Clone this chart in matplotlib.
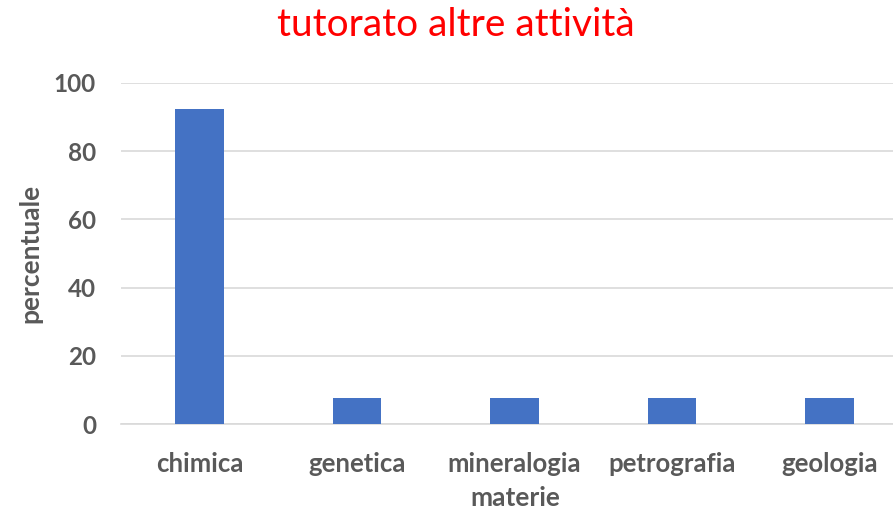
import matplotlib.pyplot as plt

# data
materie = ["chimica", "genetica", "mineralogia", "petrografia", "geologia"]
percentuale = [92.3, 7.7, 7.7, 7.7, 7.7]
y_ticks = [0, 20, 40, 60, 80, 100]

grey = "#595959"
font = "Lato"

fig = plt.figure(figsize=(8.93, 5.15), dpi=100)
ax = fig.add_axes([121 / 893, 1 - 424 / 515, 787 / 893, 341 / 515])

ax.bar(range(len(materie)), percentuale, width=0.31, color="#4472C4", zorder=3)

ax.set_xlim(-0.5, 4.5)
ax.set_ylim(0, 100)
ax.set_yticks(y_ticks)
ax.set_xticks(range(len(materie)))
ax.set_xticklabels(materie)

for s in ["top", "right", "left"]:
    ax.spines[s].set_visible(False)
ax.spines["bottom"].set_color("#d9d9d9")
ax.spines["bottom"].set_linewidth(1.2)
ax.grid(axis="y", color="#d9d9d9", linewidth=1.2, zorder=0)
ax.tick_params(length=0)
ax.tick_params(axis="y", pad=18)
ax.tick_params(axis="x", pad=20)
for lab in ax.get_xticklabels():
    lab.set_fontfamily(font)
    lab.set_fontweight("bold")
    lab.set_fontsize(18.5)
    lab.set_color(grey)
for lab in ax.get_yticklabels():
    lab.set_fontfamily(font)
    lab.set_fontweight("bold")
    lab.set_fontsize(17.5)
    lab.set_color(grey)

fig.text(456 / 893, 1 - 25 / 515, "tutorato altre attività", color="#ff0000",
         fontsize=28, family=font, ha="center", va="center")
fig.text(30 / 893, 1 - 253 / 515, "percentuale", rotation=90, color=grey,
         fontsize=19, fontweight="bold", family=font, ha="center", va="center")
fig.text(515 / 893, 1 - 498 / 515, "materie", color=grey,
         fontsize=19, fontweight="bold", family=font, ha="center", va="center")

fig.savefig("out.png", dpi=100)
